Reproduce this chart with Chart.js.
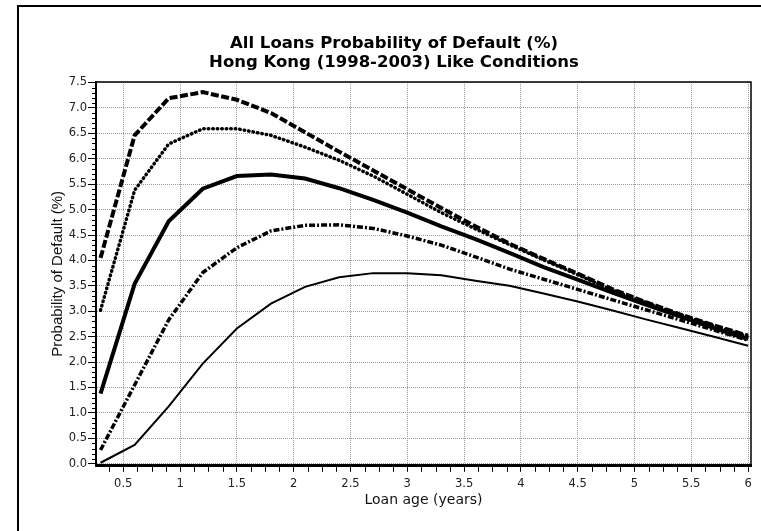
<!DOCTYPE html>
<html lang="en">
<head>
    <meta charset="UTF-8">
    <title>All Loans Probability of Default</title>
    <script src="https://cdn.jsdelivr.net/npm/chart.js"></script>
    <style>
        html, body { margin: 0; padding: 0; background: #fff; }
        #wrap { width: 761px; height: 531px; }
    </style>
</head>
<body>
    <div id="wrap"><canvas id="pdChart" width="761" height="531"></canvas></div>

    <script>
        // loan age in years, one point every 0.3 years
        const loanAge = [0.3, 0.6, 0.9, 1.2, 1.5, 1.8, 2.1, 2.4, 2.7, 3.0, 3.3, 3.6, 3.9, 4.2, 4.5, 4.8, 5.1, 5.4, 5.7, 6.0];

        // probability of default (%), top curve to bottom curve
        const pdDashed  = [4.05, 6.46, 7.19, 7.31, 7.16, 6.90, 6.52, 6.14, 5.77, 5.40, 5.03, 4.67, 4.33, 4.03, 3.74, 3.44, 3.18, 2.94, 2.72, 2.52];
        const pdDotted  = [3.02, 5.38, 6.29, 6.59, 6.59, 6.46, 6.23, 5.97, 5.66, 5.30, 4.94, 4.62, 4.31, 4.01, 3.72, 3.42, 3.17, 2.93, 2.71, 2.50];
        const pdSolid   = [1.38, 3.54, 4.77, 5.41, 5.66, 5.69, 5.61, 5.42, 5.19, 4.94, 4.67, 4.42, 4.15, 3.87, 3.62, 3.37, 3.13, 2.90, 2.67, 2.45];
        const pdDashDot = [0.27, 1.55, 2.83, 3.76, 4.25, 4.58, 4.69, 4.70, 4.63, 4.48, 4.30, 4.07, 3.83, 3.63, 3.43, 3.23, 3.03, 2.83, 2.63, 2.43];
        const pdThin    = [0.02, 0.37, 1.13, 1.97, 2.66, 3.15, 3.48, 3.67, 3.75, 3.75, 3.71, 3.60, 3.50, 3.35, 3.19, 3.02, 2.84, 2.67, 2.50, 2.32];

        const xTickValues = [0.5, 1, 1.5, 2, 2.5, 3, 3.5, 4, 4.5, 5, 5.5, 6];
        const yTickValues = [0, 0.5, 1, 1.5, 2, 2.5, 3, 3.5, 4, 4.5, 5, 5.5, 6, 6.5, 7, 7.5];

        const toPoints = arr => loanAge.map((x, i) => ({ x: x, y: arr[i] }));

        // outer frame, plot box top/right edges and the small minor ticks
        const frameAndMinorTicks = {
            id: 'frameAndMinorTicks',
            afterDraw(chart) {
                const { ctx, chartArea: a, scales: { x, y } } = chart;
                ctx.save();
                ctx.strokeStyle = '#000';
                ctx.lineWidth = 2;
                ctx.strokeRect(18, 6, 800, 600);

                ctx.lineWidth = 1.5;
                ctx.beginPath();
                ctx.moveTo(a.left, a.top);
                ctx.lineTo(a.right, a.top);
                ctx.lineTo(a.right, a.bottom);
                ctx.stroke();

                ctx.lineWidth = 1;
                ctx.beginPath();
                for (let i = 1; i < 75; i++) {
                    if (i % 5 === 0) continue;
                    const py = Math.round(y.getPixelForValue(i / 10)) + 0.5;
                    ctx.moveTo(a.left - 4, py);
                    ctx.lineTo(a.left, py);
                }
                for (let i = 3; i <= 48; i++) {
                    if (i % 4 === 0) continue;
                    const px = Math.round(x.getPixelForValue(i * 0.125)) + 0.5;
                    ctx.moveTo(px, a.bottom);
                    ctx.lineTo(px, a.bottom + 6);
                }
                ctx.stroke();
                ctx.restore();
            }
        };

        const ctx = document.getElementById('pdChart').getContext('2d');
        new Chart(ctx, {
            type: 'line',
            data: {
                datasets: [
                    { label: 'Curve 1', data: toPoints(pdDashed), borderColor: '#000', borderWidth: 4, borderDash: [8, 2.5] },
                    { label: 'Curve 2', data: toPoints(pdDotted), borderColor: '#000', borderWidth: 3.5, borderDash: [0.5, 4], borderCapStyle: 'round' },
                    { label: 'Curve 3', data: toPoints(pdSolid), borderColor: '#000', borderWidth: 4 },
                    { label: 'Curve 4', data: toPoints(pdDashDot), borderColor: '#000', borderWidth: 3.5, borderDash: [6, 2, 2, 2] },
                    { label: 'Curve 5', data: toPoints(pdThin), borderColor: '#000', borderWidth: 2 }
                ]
            },
            options: {
                responsive: false,
                animation: false,
                elements: { point: { radius: 0 }, line: { tension: 0, fill: false } },
                layout: { padding: { left: 37, right: 10, top: 24.4, bottom: 0 } },
                plugins: {
                    legend: { display: false },
                    tooltip: { enabled: false },
                    title: {
                        display: true,
                        text: ['All Loans Probability of Default (%)', 'Hong Kong (1998-2003) Like Conditions'],
                        color: '#000',
                        font: { family: 'DejaVu Sans', size: 16.5, weight: 'bold', lineHeight: 1.16 },
                        padding: { top: 10, bottom: 9.2 }
                    }
                },
                scales: {
                    x: {
                        type: 'linear',
                        min: 0.26,
                        max: 6.026,
                        afterBuildTicks: s => { s.ticks = xTickValues.map(v => ({ value: v })); },
                        afterFit: s => { s.height = 65.2; },
                        ticks: {
                            autoSkip: false, maxRotation: 0, padding: 5, color: '#222',
                            font: { family: 'DejaVu Sans', size: 11.5 },
                            callback: v => String(v)
                        },
                        grid: { color: '#9a9a9a', lineWidth: 1, tickLength: 6, tickColor: '#000', tickWidth: 1 },
                        border: { display: true, color: '#000', width: 3, dash: [1, 1] },
                        title: {
                            display: true, text: 'Loan age (years)', color: '#111',
                            font: { family: 'DejaVu Sans', size: 14 },
                            padding: { top: 0, bottom: 22.6 }
                        }
                    },
                    y: {
                        min: -0.04,
                        max: 7.512,
                        afterBuildTicks: s => { s.ticks = yTickValues.map(v => ({ value: v })); },
                        afterFit: s => { s.width = 59; },
                        ticks: {
                            autoSkip: false, padding: 1, color: '#222',
                            font: { family: 'DejaVu Sans', size: 11.5 },
                            callback: v => v.toFixed(1)
                        },
                        grid: { color: '#9a9a9a', lineWidth: 1, tickLength: 8, tickColor: '#000', tickWidth: 1 },
                        border: { display: true, color: '#000', width: 2, dash: [1, 1] },
                        title: {
                            display: true, text: 'Probability of Default (%)', color: '#111',
                            font: { family: 'Liberation Sans', size: 15 },
                            padding: { top: 11.5, bottom: 0 }
                        }
                    }
                }
            },
            plugins: [frameAndMinorTicks]
        });
    </script>
</body>
</html>
